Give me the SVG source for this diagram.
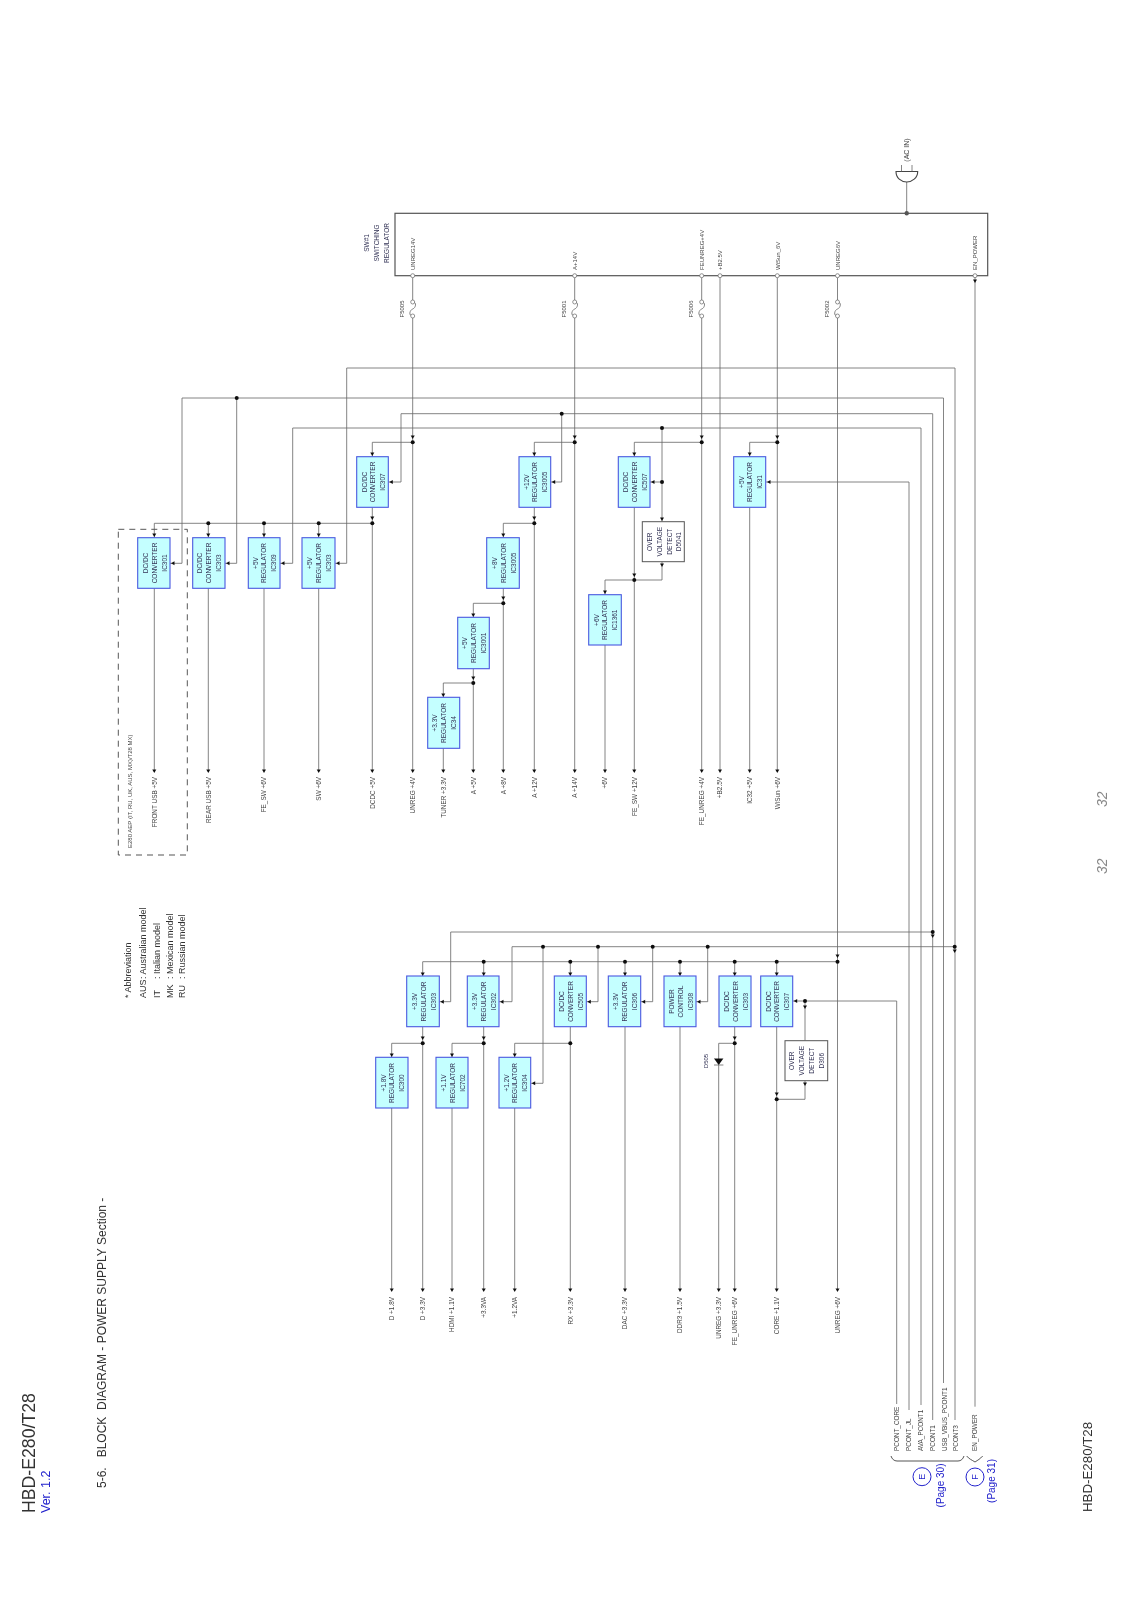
<svg xmlns="http://www.w3.org/2000/svg" xmlns:xlink="http://www.w3.org/1999/xlink" width="1131" height="1600" viewBox="0 0 1131 1600">
<style>
text{font-family:"Liberation Sans",Arial,sans-serif;fill:#444}
.c{fill:none;stroke:#666;stroke-width:.8}
.b{fill:#c4ffff;stroke:#4a58e0;stroke-width:1.1}
.o{fill:#fff;stroke:#555;stroke-width:1}
.m{fill:#fff;stroke:#555;stroke-width:1.2}
.t{font-size:6.5px;text-anchor:middle;fill:#335}
.l{font-size:6.4px;text-anchor:end}
.s{font-size:6px}
.a{font-size:6.4px}
.g{font-size:9px;fill:#333}
.e{fill:#fff;stroke:#666;stroke-width:.7}
.u{fill:#2222cc}
.p{fill:none;stroke:#2222cc;stroke-width:1}
.br{fill:none;stroke:#444;stroke-width:.9}
.d{fill:none;stroke:#555;stroke-width:1;stroke-dasharray:6 5}
</style>
<defs>
<filter id="f" filterUnits="userSpaceOnUse" x="0" y="0" width="1131" height="1600"><feGaussianBlur stdDeviation="0.4"/></filter>
<circle id="j" r="2" fill="#111"/>
<path id="v" d="M-2,-3.5H2L0,0Z" fill="#111"/>
<path id="h" d="M3.5,-2V2L0,0Z" fill="#111"/>
<g id="w"><path d="M0,-7C4.5,-7 3,-1 0,0C-3,1 -4.5,7 0,7" class="c"/><circle cy="-7" r="2" class="e"/><circle cy="7" r="2" class="e"/></g>
</defs>
<rect width="1131" height="1600" fill="#fff"/>
<g filter="url(#f)">
<g id="connectors">
<path class="c" d="M412.7 276V302M412.7 316V771.7M574.7 276V302M574.7 316V771.7M701.7 276V302M701.7 316V771.7M720 276V771.7M777.3 276V771.7M837.5 276V302M837.5 316V1290.7M975 276V1406.7M906.7 213V182"/>
<path class="c" d="M346.7 563.3V368H955V1420M182 563.3V398H943.5V1383M236.7 563.3V398M401 482V413.7H932.7V1420M561.7 482V413.7M292.7 563.3V428H921V1405M662 521.7V428M909 1410V482H766M896.7 1404V1001H792.7"/>
<path class="c" d="M170 563.3H182M225 563.3H236.7M280 563.3H292.7M335 563.3H346.7M388.3 482H401M550.7 482H561.7M650 482H662"/>
<path class="c" d="M412.7 442.3H372.3V456.7M372.3 507.3V771.7M372.3 523.3H154.3V537.7M154.3 588.3V771.7M208.3 523.3V537.7M208.3 588.3V771.7M264 523.3V537.7M264 588.3V771.7M318.7 523.3V537.7M318.7 588.3V771.7"/>
<path class="c" d="M574.7 442.3H534.3V456.7M534.3 507.3V771.7M534.3 523.3H503.3V537.7M503.3 588.3V771.7M503.3 603.3H473.3V617.3M473.3 668.7V771.7M473.3 683H443.3V697.3M443.3 748.3V771.7"/>
<path class="c" d="M701.7 442.3H634.3V456.7M634.3 507.3V771.7M662 561.7V580H605V594.7M605 645V771.7M777.3 442.3H749.7V456.7M749.7 507.3V771.7"/>
<path class="c" d="M450.7 1001.7V932H932.7M512 1001.7V946.7H954.7M598 1001.7V946.7M652.7 1001.7V946.7M707.7 1001.7V946.7M543 946.7V1083.3H530.7M439.3 1001.7H450.7M499 1001.7H512M586.3 1001.7H598M640.7 1001.7H652.7M696 1001.7H707.7"/>
<path class="c" d="M837.5 961.7H422.7V976M483.7 961.7V976M570.3 961.7V976M625 961.7V976M680 961.7V976M734.7 961.7V976M776.7 961.7V976"/>
<path class="c" d="M422.7 1026.7V1290.7M422.7 1043.3H391.7V1057.3M391.7 1108V1290.7M483.7 1026.7V1290.7M483.7 1043.3H452V1057.3M452 1108V1290.7M570.3 1026.7V1290.7M570.3 1043.3H514.7V1057.3M514.7 1108V1290.7M625 1026.7V1290.7M680 1026.7V1290.7M734.7 1026.7V1290.7M776.7 1026.7V1290.7M734.7 1043.3H718.7V1290.7M805 1001V1040.7M805 1080.7V1099.3H776.7"/>
<g id="fuses"><use href="#w" x="412.7" y="309"/><use href="#w" x="574.7" y="309"/><use href="#w" x="701.7" y="309"/><use href="#w" x="837.5" y="309"/></g>
<g id="dots">
<use href="#j" x="412.7" y="442.3"/><use href="#j" x="574.7" y="442.3"/><use href="#j" x="701.7" y="442.3"/><use href="#j" x="777.3" y="442.3"/>
<use href="#j" x="236.7" y="398"/><use href="#j" x="561.7" y="413.7"/><use href="#j" x="662" y="428"/><use href="#j" x="662" y="482"/>
<use href="#j" x="372.3" y="523.3"/><use href="#j" x="208.3" y="523.3"/><use href="#j" x="264" y="523.3"/><use href="#j" x="318.7" y="523.3"/>
<use href="#j" x="534.3" y="523.3"/><use href="#j" x="503.3" y="603.3"/><use href="#j" x="473.3" y="683"/><use href="#j" x="634.3" y="580"/>
<use href="#j" x="932.7" y="932"/><use href="#j" x="954.7" y="946.7"/><use href="#j" x="543" y="946.7"/><use href="#j" x="598" y="946.7"/><use href="#j" x="652.7" y="946.7"/><use href="#j" x="707.7" y="946.7"/>
<use href="#j" x="837.5" y="961.7"/><use href="#j" x="483.7" y="961.7"/><use href="#j" x="570.3" y="961.7"/><use href="#j" x="625" y="961.7"/><use href="#j" x="680" y="961.7"/><use href="#j" x="734.7" y="961.7"/><use href="#j" x="776.7" y="961.7"/>
<use href="#j" x="422.7" y="1043.3"/><use href="#j" x="483.7" y="1043.3"/><use href="#j" x="570.3" y="1043.3"/><use href="#j" x="734.7" y="1043.3"/><use href="#j" x="805" y="1001"/><use href="#j" x="776.7" y="1099.3"/>
</g>
<g id="arrows">
<use href="#v" x="412.7" y="439"/><use href="#v" x="574.7" y="439"/><use href="#v" x="701.7" y="439"/><use href="#v" x="777.3" y="439"/>
<use href="#v" x="372.3" y="456"/><use href="#v" x="534.3" y="456"/><use href="#v" x="634.3" y="456"/><use href="#v" x="749.7" y="456"/>
<use href="#v" x="372.3" y="520"/><use href="#v" x="534.3" y="520"/><use href="#v" x="503.3" y="600"/><use href="#v" x="473.3" y="680"/><use href="#v" x="634.3" y="577"/><use href="#v" x="662" y="521"/><use href="#v" x="662" y="567"/>
<use href="#v" x="154.3" y="537"/><use href="#v" x="208.3" y="537"/><use href="#v" x="264" y="537"/><use href="#v" x="318.7" y="537"/><use href="#v" x="503.3" y="537"/><use href="#v" x="473.3" y="617"/><use href="#v" x="443.3" y="697"/><use href="#v" x="605" y="594"/>
<use href="#h" x="171" y="563.3"/><use href="#h" x="226" y="563.3"/><use href="#h" x="281" y="563.3"/><use href="#h" x="336" y="563.3"/><use href="#h" x="389.3" y="482"/><use href="#h" x="551.7" y="482"/><use href="#h" x="651" y="482"/><use href="#h" x="767" y="482"/>
<use href="#v" x="154.3" y="773"/><use href="#v" x="208.3" y="773"/><use href="#v" x="264" y="773"/><use href="#v" x="318.7" y="773"/><use href="#v" x="372.3" y="773"/><use href="#v" x="412.7" y="773"/><use href="#v" x="443.3" y="773"/><use href="#v" x="473.3" y="773"/><use href="#v" x="503.3" y="773"/><use href="#v" x="534.3" y="773"/><use href="#v" x="574.7" y="773"/><use href="#v" x="605" y="773"/><use href="#v" x="634.3" y="773"/><use href="#v" x="701.7" y="773"/><use href="#v" x="720" y="773"/><use href="#v" x="749.7" y="773"/><use href="#v" x="777.3" y="773"/>
<use href="#v" x="932.7" y="938"/><use href="#v" x="954.7" y="953"/><use href="#v" x="837.5" y="958"/>
<use href="#v" x="422.7" y="976"/><use href="#v" x="483.7" y="976"/><use href="#v" x="570.3" y="976"/><use href="#v" x="625" y="976"/><use href="#v" x="680" y="976"/><use href="#v" x="734.7" y="976"/><use href="#v" x="776.7" y="976"/>
<use href="#v" x="422.7" y="1040"/><use href="#v" x="483.7" y="1040"/><use href="#v" x="734.7" y="1040"/><use href="#v" x="391.7" y="1057"/><use href="#v" x="452" y="1057"/><use href="#v" x="514.7" y="1057"/>
<use href="#h" x="440.3" y="1001.7"/><use href="#h" x="500" y="1001.7"/><use href="#h" x="587.3" y="1001.7"/><use href="#h" x="641.7" y="1001.7"/><use href="#h" x="697" y="1001.7"/><use href="#h" x="793.7" y="1001"/><use href="#h" x="531.7" y="1083.3"/>
<use href="#v" x="805" y="1009"/><use href="#v" x="805" y="1086"/><use href="#v" x="776.7" y="1096"/>
<use href="#v" x="391.7" y="1292"/><use href="#v" x="422.7" y="1292"/><use href="#v" x="452" y="1292"/><use href="#v" x="483.7" y="1292"/><use href="#v" x="514.7" y="1292"/><use href="#v" x="570.3" y="1292"/><use href="#v" x="625" y="1292"/><use href="#v" x="680" y="1292"/><use href="#v" x="718.7" y="1292"/><use href="#v" x="734.7" y="1292"/><use href="#v" x="776.7" y="1292"/><use href="#v" x="837.5" y="1292"/>
<use href="#v" x="975" y="283"/>
</g>
</g>

<g id="regulator-main">
<rect class="m" x="395" y="213.3" width="592.7" height="62.4"/>
<circle class="e" cx="412.7" cy="275.7" r="2"/><circle class="e" cx="574.7" cy="275.7" r="2"/><circle class="e" cx="701.7" cy="275.7" r="2"/><circle class="e" cx="720" cy="275.7" r="2"/><circle class="e" cx="777.3" cy="275.7" r="2"/><circle class="e" cx="837.5" cy="275.7" r="2"/><circle class="e" cx="975" cy="275.7" r="2"/>
<circle cx="906.7" cy="213.3" r="2.2" fill="#555"/>
<text class="t" transform="translate(369,243) rotate(-90)">SW#1</text>
<text class="t" transform="translate(379,243) rotate(-90)">SWITCHING</text>
<text class="t" transform="translate(388.5,243) rotate(-90)">REGULATOR</text>
<text class="s" transform="translate(415,270) rotate(-90)">UNREG14V</text>
<text class="s" transform="translate(577,270) rotate(-90)">A+14V</text>
<text class="s" transform="translate(704,270) rotate(-90)">FEUNREG+4V</text>
<text class="s" transform="translate(722.3,270) rotate(-90)">+B2.5V</text>
<text class="s" transform="translate(779.6,270) rotate(-90)">WiSun_6V</text>
<text class="s" transform="translate(839.8,270) rotate(-90)">UNREG6V</text>
<text class="s" transform="translate(977.3,270) rotate(-90)">EN_POWER</text>
<text class="s" text-anchor="middle" transform="translate(404,309) rotate(-90)">F5005</text>
<text class="s" text-anchor="middle" transform="translate(566,309) rotate(-90)">F5001</text>
<text class="s" text-anchor="middle" transform="translate(693,309) rotate(-90)">F5006</text>
<text class="s" text-anchor="middle" transform="translate(829,309) rotate(-90)">F5002</text>
</g>
<g id="ac-in">
<path class="c" style="stroke:#444;stroke-width:1.1;fill:#fff" d="M896 171.5H917.7C917.7 178 912 182 906.8 182C901 182 896 178 896 171.5Z"/>
<path class="c" d="M901.5 165V171.5M912 165V171.5"/>
<text class="a" style="font-size:7px" text-anchor="middle" transform="translate(909,150) rotate(-90)">(AC IN)</text>
</g>

<g id="n-ic301"><rect class="b" x="137.7" y="537.7" width="32.3" height="50.6"/><text class="t" transform="translate(148,563) rotate(-90)">DC/DC</text><text class="t" transform="translate(156.5,563) rotate(-90)">CONVERTER</text><text class="t" transform="translate(166.5,563) rotate(-90)">IC301</text></g>
<g id="n-ic303a"><rect class="b" x="192.7" y="537.7" width="32.3" height="50.6"/><text class="t" transform="translate(202,563) rotate(-90)">DC/DC</text><text class="t" transform="translate(210.5,563) rotate(-90)">CONVERTER</text><text class="t" transform="translate(220.5,563) rotate(-90)">IC303</text></g>
<g id="n-ic309"><rect class="b" x="248.3" y="537.7" width="31.7" height="50.6"/><text class="t" transform="translate(258,563) rotate(-90)">+5V</text><text class="t" transform="translate(266.3,563) rotate(-90)">REGULATOR</text><text class="t" transform="translate(276,563) rotate(-90)">IC309</text></g>
<g id="n-ic303b"><rect class="b" x="302" y="537.7" width="33" height="50.6"/><text class="t" transform="translate(312,563) rotate(-90)">+5V</text><text class="t" transform="translate(321,563) rotate(-90)">REGULATOR</text><text class="t" transform="translate(331,563) rotate(-90)">IC303</text></g>
<g id="n-ic307a"><rect class="b" x="356.7" y="456.7" width="31.6" height="50.6"/><text class="t" transform="translate(366.5,482) rotate(-90)">DC/DC</text><text class="t" transform="translate(375,482) rotate(-90)">CONVERTER</text><text class="t" transform="translate(385,482) rotate(-90)">IC307</text></g>
<g id="n-ic34"><rect class="b" x="427.7" y="697.3" width="32" height="51"/><text class="t" transform="translate(437,723) rotate(-90)">+3.3V</text><text class="t" transform="translate(445.5,723) rotate(-90)">REGULATOR</text><text class="t" transform="translate(455.5,723) rotate(-90)">IC34</text></g>
<g id="n-ic3001"><rect class="b" x="457.7" y="617.3" width="31.6" height="51.4"/><text class="t" transform="translate(467,643) rotate(-90)">+5V</text><text class="t" transform="translate(475.5,643) rotate(-90)">REGULATOR</text><text class="t" transform="translate(485.5,643) rotate(-90)">IC3001</text></g>
<g id="n-ic3005a"><rect class="b" x="486.7" y="537.7" width="32.6" height="50.6"/><text class="t" transform="translate(497,563) rotate(-90)">+8V</text><text class="t" transform="translate(505.5,563) rotate(-90)">REGULATOR</text><text class="t" transform="translate(515.5,563) rotate(-90)">IC3005</text></g>
<g id="n-ic3005b"><rect class="b" x="519" y="456.7" width="31.7" height="50.6"/><text class="t" transform="translate(529,482) rotate(-90)">+12V</text><text class="t" transform="translate(537,482) rotate(-90)">REGULATOR</text><text class="t" transform="translate(547,482) rotate(-90)">IC3005</text></g>
<g id="n-ic507"><rect class="b" x="618.3" y="456.7" width="31.7" height="50.6"/><text class="t" transform="translate(628,482) rotate(-90)">DC/DC</text><text class="t" transform="translate(636.5,482) rotate(-90)">CONVERTER</text><text class="t" transform="translate(646.5,482) rotate(-90)">IC507</text></g>
<g id="n-ic1361"><rect class="b" x="588.7" y="594.7" width="32.6" height="50.3"/><text class="t" transform="translate(598.5,620) rotate(-90)">+6V</text><text class="t" transform="translate(607,620) rotate(-90)">REGULATOR</text><text class="t" transform="translate(617,620) rotate(-90)">IC1361</text></g>
<g id="n-ic31"><rect class="b" x="733.7" y="456.7" width="32" height="50.6"/><text class="t" transform="translate(743.5,482) rotate(-90)">+5V</text><text class="t" transform="translate(752,482) rotate(-90)">REGULATOR</text><text class="t" transform="translate(762,482) rotate(-90)">IC31</text></g>
<g id="n-ov1"><rect class="o" x="642.3" y="521.7" width="42" height="40"/><text class="t" transform="translate(651.5,541.7) rotate(-90)">OVER</text><text class="t" transform="translate(661.5,541.7) rotate(-90)">VOLTAGE</text><text class="t" transform="translate(671.5,541.7) rotate(-90)">DETECT</text><text class="t" transform="translate(680.5,541.7) rotate(-90)">D5041</text></g>

<g id="n-ic303c"><rect class="b" x="406.7" y="976" width="32.6" height="50.7"/><text class="t" transform="translate(417,1001.5) rotate(-90)">+3.3V</text><text class="t" transform="translate(425.5,1001.5) rotate(-90)">REGULATOR</text><text class="t" transform="translate(435.5,1001.5) rotate(-90)">IC303</text></g>
<g id="n-ic302"><rect class="b" x="467.3" y="976" width="31.7" height="50.7"/><text class="t" transform="translate(477,1001.5) rotate(-90)">+3.3V</text><text class="t" transform="translate(486,1001.5) rotate(-90)">REGULATOR</text><text class="t" transform="translate(495.5,1001.5) rotate(-90)">IC302</text></g>
<g id="n-ic505"><rect class="b" x="554.3" y="976" width="32" height="50.7"/><text class="t" transform="translate(564,1001.5) rotate(-90)">DC/DC</text><text class="t" transform="translate(572.7,1001.5) rotate(-90)">CONVERTER</text><text class="t" transform="translate(582.7,1001.5) rotate(-90)">IC505</text></g>
<g id="n-ic306"><rect class="b" x="608.3" y="976" width="32.4" height="50.7"/><text class="t" transform="translate(618,1001.5) rotate(-90)">+3.3V</text><text class="t" transform="translate(627,1001.5) rotate(-90)">REGULATOR</text><text class="t" transform="translate(637,1001.5) rotate(-90)">IC306</text></g>
<g id="n-ic308"><rect class="b" x="664" y="976" width="32" height="50.7"/><text class="t" transform="translate(673.5,1001.5) rotate(-90)">POWER</text><text class="t" transform="translate(682.5,1001.5) rotate(-90)">CONTROL</text><text class="t" transform="translate(692.5,1001.5) rotate(-90)">IC308</text></g>
<g id="n-ic303d"><rect class="b" x="719" y="976" width="32" height="50.7"/><text class="t" transform="translate(729,1001.5) rotate(-90)">DC/DC</text><text class="t" transform="translate(737.5,1001.5) rotate(-90)">CONVERTER</text><text class="t" transform="translate(747.5,1001.5) rotate(-90)">IC303</text></g>
<g id="n-ic307b"><rect class="b" x="760.7" y="976" width="32" height="50.7"/><text class="t" transform="translate(770.5,1001.5) rotate(-90)">DC/DC</text><text class="t" transform="translate(779,1001.5) rotate(-90)">CONVERTER</text><text class="t" transform="translate(789,1001.5) rotate(-90)">IC307</text></g>
<g id="n-ic300"><rect class="b" x="375.7" y="1057.3" width="32.3" height="50.7"/><text class="t" transform="translate(385.5,1083) rotate(-90)">+1.8V</text><text class="t" transform="translate(394,1083) rotate(-90)">REGULATOR</text><text class="t" transform="translate(404,1083) rotate(-90)">IC300</text></g>
<g id="n-ic702"><rect class="b" x="436" y="1057.3" width="32" height="50.7"/><text class="t" transform="translate(446,1083) rotate(-90)">+1.1V</text><text class="t" transform="translate(454.5,1083) rotate(-90)">REGULATOR</text><text class="t" transform="translate(464.5,1083) rotate(-90)">IC702</text></g>
<g id="n-ic304"><rect class="b" x="499" y="1057.3" width="31.7" height="50.7"/><text class="t" transform="translate(509,1083) rotate(-90)">+1.2V</text><text class="t" transform="translate(517,1083) rotate(-90)">REGULATOR</text><text class="t" transform="translate(527,1083) rotate(-90)">IC304</text></g>
<g id="n-ov2"><rect class="o" x="785" y="1040.7" width="42.7" height="40"/><text class="t" transform="translate(794,1060.7) rotate(-90)">OVER</text><text class="t" transform="translate(804,1060.7) rotate(-90)">VOLTAGE</text><text class="t" transform="translate(814,1060.7) rotate(-90)">DETECT</text><text class="t" transform="translate(824,1060.7) rotate(-90)">D306</text></g>
<g id="n-d505"><path d="M714 1058.5H723.4L718.7 1065Z" fill="#111"/><path class="c" d="M714 1065H723.4"/><text class="t" style="font-size:6px" transform="translate(708,1061) rotate(-90)">D505</text></g>

<g id="labels-top">
<text class="l" transform="translate(156.6,777) rotate(-90)">FRONT USB +5V</text>
<text class="l" transform="translate(210.6,777) rotate(-90)">REAR USB +5V</text>
<text class="l" transform="translate(266.3,777) rotate(-90)">FE_SW +6V</text>
<text class="l" transform="translate(321,777) rotate(-90)">SW +6V</text>
<text class="l" transform="translate(374.6,777) rotate(-90)">DCDC +5V</text>
<text class="l" transform="translate(415,777) rotate(-90)">UNREG +4V</text>
<text class="l" transform="translate(445.6,777) rotate(-90)">TUNER +3.3V</text>
<text class="l" transform="translate(475.6,777) rotate(-90)">A +5V</text>
<text class="l" transform="translate(505.6,777) rotate(-90)">A +8V</text>
<text class="l" transform="translate(536.6,777) rotate(-90)">A +12V</text>
<text class="l" transform="translate(577,777) rotate(-90)">A +14V</text>
<text class="l" transform="translate(607.3,777) rotate(-90)">+6V</text>
<text class="l" transform="translate(636.6,777) rotate(-90)">FE_SW +12V</text>
<text class="l" transform="translate(704,777) rotate(-90)">FE_UNREG +4V</text>
<text class="l" transform="translate(722.3,777) rotate(-90)">+B2.5V</text>
<text class="l" transform="translate(752,777) rotate(-90)">IC32 +5V</text>
<text class="l" transform="translate(779.6,777) rotate(-90)">WiSun +6V</text>
</g>
<g id="labels-bottom">
<text class="l" transform="translate(394,1297) rotate(-90)">D +1.8V</text>
<text class="l" transform="translate(425,1297) rotate(-90)">D +3.3V</text>
<text class="l" transform="translate(454.3,1297) rotate(-90)">HDMI +1.1V</text>
<text class="l" transform="translate(486,1297) rotate(-90)">+3.3VA</text>
<text class="l" transform="translate(517,1297) rotate(-90)">+1.2VA</text>
<text class="l" transform="translate(572.6,1297) rotate(-90)">RX +3.3V</text>
<text class="l" transform="translate(627.3,1297) rotate(-90)">DAC +3.3V</text>
<text class="l" transform="translate(682.3,1297) rotate(-90)">DDR3 +1.5V</text>
<text class="l" transform="translate(721,1297) rotate(-90)">UNREG +3.3V</text>
<text class="l" transform="translate(737,1297) rotate(-90)">FE_UNREG +6V</text>
<text class="l" transform="translate(779,1297) rotate(-90)">CORE +1.1V</text>
<text class="l" transform="translate(839.8,1297) rotate(-90)">UNREG +6V</text>
</g>
<g id="labels-pcont">
<text class="a" transform="translate(899,1451) rotate(-90)">PCONT_CORE</text>
<text class="a" transform="translate(911.3,1451) rotate(-90)">PCONT_JL</text>
<text class="a" transform="translate(923,1451) rotate(-90)">AVA_PCONT1</text>
<text class="a" transform="translate(935,1451) rotate(-90)">PCONT1</text>
<text class="a" transform="translate(946.5,1451) rotate(-90)">USB_VBUS_PCONT1</text>
<text class="a" transform="translate(957.5,1451) rotate(-90)">PCONT3</text>
<text class="a" transform="translate(977.3,1451) rotate(-90)">EN_POWER</text>
<path class="br" d="M891 1456C892 1459 894 1461 897 1461H958C961 1461 963 1459 964 1456"/>
<path class="br" d="M966.7 1456C969 1459 972 1460 975 1462C978 1460 980 1459 982.7 1456"/>
<circle class="p" cx="922" cy="1476.7" r="9"/><text class="u" style="font-size:9px" text-anchor="middle" transform="translate(925.2,1476.7) rotate(-90)">E</text>
<circle class="p" cx="975" cy="1477" r="9"/><text class="u" style="font-size:9px" text-anchor="middle" transform="translate(978.2,1477) rotate(-90)">F</text>
<text class="u" style="font-size:10px" text-anchor="middle" transform="translate(943.5,1485.5) rotate(-90)">(Page 30)</text>
<text class="u" style="font-size:10px" text-anchor="middle" transform="translate(995,1481) rotate(-90)">(Page 31)</text>
</g>

<g id="option-box">
<rect class="d" x="118.3" y="529.3" width="69" height="325.7"/>
<text class="s" transform="translate(132,848) rotate(-90)">E280 AEP (IT, RU, UK, AUS, MX)/T28 MX)</text>
</g>
<g id="abbreviation">
<text class="g" transform="translate(131,998) rotate(-90)">* Abbreviation</text>
<text class="g" transform="translate(146,998) rotate(-90)">AUS</text><text class="g" transform="translate(146,979) rotate(-90)">: Australian model</text>
<text class="g" transform="translate(160,998) rotate(-90)">IT</text><text class="g" transform="translate(160,979) rotate(-90)">: Italian model</text>
<text class="g" transform="translate(173,998) rotate(-90)">MK</text><text class="g" transform="translate(173,979) rotate(-90)">: Mexican model</text>
<text class="g" transform="translate(185,998) rotate(-90)">RU</text><text class="g" transform="translate(185,979) rotate(-90)">: Russian model</text>
</g>
<g id="page-text">
<text style="font-size:17.7px;fill:#333" transform="translate(34.5,1513) rotate(-90)">HBD-E280/T28</text>
<text class="u" style="font-size:12.5px" transform="translate(49.5,1513) rotate(-90)">Ver. 1.2</text>
<text style="font-size:12px;fill:#333" xml:space="preserve" transform="translate(106,1488) rotate(-90)">5-6.   BLOCK  DIAGRAM - POWER SUPPLY Section -</text>
<text style="font-size:13.3px;fill:#333" transform="translate(1092,1512) rotate(-90)">HBD-E280/T28</text>
<text style="font-size:14px;font-style:italic;fill:#888" transform="translate(1107,807) rotate(-90)">32</text>
<text style="font-size:14px;font-style:italic;fill:#888" transform="translate(1107,874) rotate(-90)">32</text>
</g>
</g>
</svg>
